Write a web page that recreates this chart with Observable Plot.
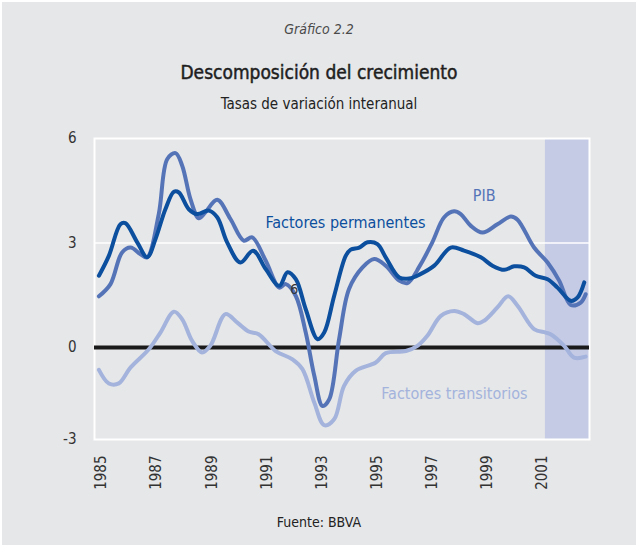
<!DOCTYPE html>
<html>
<head>
<meta charset="utf-8">
<script src="https://cdn.jsdelivr.net/npm/d3@7"></script>
<script src="https://cdn.jsdelivr.net/npm/@observablehq/plot@0.6"></script>
<style>
  html, body { margin: 0; padding: 0; background: #ffffff; }
  #wrap { position: relative; width: 634px; height: 543px; margin: 2px 0 0 2px; background: #e6e7e9; overflow: hidden;
          font-family: "Liberation Sans Narrow", "DejaVu Sans Condensed", "Roboto", sans-serif; color: #222; }
  .t { position: absolute; left: 0; width: 634px; text-align: center; }
  #kicker { top: 19px; font-size: 14px; font-style: italic; color: #4a4a4a; }
  #title { top: 59px; font-size: 19px; font-weight: normal; color: #1e1e1e; -webkit-text-stroke: 0.45px #1e1e1e; }
  #subtitle { top: 93px; font-size: 15px; color: #222; }
  #chart { position: absolute; left: -2px; top: 116px; }
  #source { top: 512px; font-size: 14px; color: #222; }
</style>
</head>
<body>
<div id="wrap">
  <div class="t" id="kicker">Gráfico 2.2</div>
  <div class="t" id="title">Descomposición del crecimiento</div>
  <div class="t" id="subtitle">Tasas de variación interanual</div>
  <div id="chart"></div>
  <div class="t" id="source">Fuente: BBVA</div>
</div>
<script>
// Factores permanentes (dark blue)
const permYears = [1984.91,1985.27,1985.69,1985.87,1986.30,1986.66,1986.96,1987.32,1987.63,1987.81,1988.17,1988.47,1988.89,1989.20,1989.56,1990.04,1990.50,1990.96,1991.45,1991.75,1992.05,1992.41,1992.84,1993.08,1993.44,1993.86,1994.04,1994.35,1994.65,1995.01,1995.31,1995.80,1996.16,1996.55,1997.07,1997.67,1998.15,1998.76,1999.18,1999.61,1999.97,2000.33,2000.75,2001.18,2001.54,2002.02,2002.27,2002.51];
const permValues = [2.06,2.63,3.54,3.57,3.02,2.59,3.11,3.97,4.47,4.45,3.97,3.83,3.93,3.74,3.02,2.44,2.78,2.25,1.77,2.16,1.96,1.10,0.24,0.43,1.48,2.63,2.81,2.87,3.02,2.97,2.59,2.01,1.98,2.10,2.35,2.87,2.78,2.59,2.35,2.23,2.33,2.30,2.06,1.96,1.72,1.34,1.44,1.87];

// PIB (medium blue)
const pibYears = [1984.91,1985.33,1985.75,1986.06,1986.42,1986.66,1987.08,1987.39,1987.69,1987.93,1988.23,1988.53,1988.77,1989.20,1989.68,1990.16,1990.47,1990.96,1991.45,1991.69,1992.05,1992.41,1992.72,1993.02,1993.26,1993.62,1993.98,1994.47,1994.89,1995.31,1995.80,1996.10,1996.55,1997.00,1997.43,1997.79,1998.03,1998.39,1998.82,1999.36,1999.85,2000.09,2000.69,2001.18,2001.60,2002.02,2002.38,2002.56];
const pibValues = [1.47,1.82,2.73,2.87,2.68,2.59,3.83,5.41,5.58,5.22,4.26,3.71,3.88,4.24,3.69,3.07,3.16,2.49,1.72,1.82,1.48,0.43,-0.81,-1.68,-1.49,0.24,1.68,2.30,2.54,2.35,1.92,1.85,2.35,3.02,3.74,3.91,3.83,3.50,3.30,3.54,3.76,3.67,2.87,2.44,1.92,1.22,1.29,1.53];

// Factores transitorios (light blue)
const tranYears = [1984.91,1985.27,1985.63,1986.06,1986.72,1987.14,1987.63,1987.93,1988.29,1988.65,1988.95,1989.50,1989.92,1990.34,1990.70,1991.32,1991.93,1992.29,1992.72,1993.08,1993.44,1993.80,1994.22,1994.95,1995.31,1996.04,1996.46,1996.82,1997.31,1997.79,1998.15,1998.64,1998.88,1999.36,1999.75,2000.09,2000.69,2001.11,2001.29,2001.78,2002.14,2002.56];
const tranValues = [-0.64,-1.03,-1.03,-0.57,-0.05,0.43,1.03,0.81,0.19,-0.14,0.05,0.96,0.72,0.46,0.38,-0.10,-0.34,-0.62,-1.58,-2.23,-2.06,-1.10,-0.67,-0.43,-0.16,-0.10,0.05,0.34,0.91,1.05,0.96,0.70,0.77,1.15,1.47,1.20,0.53,0.43,0.38,0.05,-0.29,-0.26];

// Shaded forecast period
const shadeStart = 2001.1;
const shadeEnd = 2002.7;

// Axis ticks
const xTicks = [1985,1987,1989,1991,1993,1995,1997,1999,2001];
const yTicks = [6, 3, 0, -2.64];
const yTickLabels = ["6", "3", "0", "-3"];

// Series labels
const labels = [
  {x: 1993.85, y: 3.59, text: "Factores permanentes", color: "#0b4f9e"},
  {x: 1998.88, y: 4.34, text: "PIB", color: "#5574b8"},
  {x: 1997.80, y: -1.33, text: "Factores transitorios", color: "#a3b3dc"},
  {x: 1991.99, y: 1.67, text: "6", color: "#333333"}
];

const toPts = (xs, ys) => xs.map((x, i) => ({x, y: ys[i]}));
const perm = toPts(permYears, permValues);
const pib = toPts(pibYears, pibValues);
const tran = toPts(tranYears, tranValues);

const font = '"Liberation Sans Narrow", "DejaVu Sans Condensed", "Roboto", sans-serif';

const chart = Plot.plot({
  width: 636,
  height: 400,
  marginLeft: 94,
  marginRight: 47,
  marginTop: 20,
  marginBottom: 79,
  style: {background: "transparent", fontFamily: font, fontSize: "15px", color: "#333"},
  x: {domain: [1984.75, 2002.7], axis: null},
  y: {domain: [-2.64, 6], axis: null},
  marks: [
    Plot.rectX([{x1: shadeStart, x2: shadeEnd}], {x1: "x1", x2: "x2", y1: -2.64, y2: 6, fill: "#c5cbe5"}),
    Plot.ruleY([3], {stroke: "#ffffff", strokeWidth: 1.5}),
    Plot.frame({stroke: "#ffffff", strokeWidth: 2}),
    Plot.ruleY([0], {stroke: "#1a1a1a", strokeWidth: 4}),
    Plot.axisX({ticks: xTicks, tickFormat: d => String(d), tickRotate: -90, tickSize: 0, tickPadding: 16, label: null, fontSize: 15, fill: "#333"}),
    Plot.axisY({ticks: yTicks, tickFormat: d => yTickLabels[yTicks.indexOf(d)], tickSize: 0, tickPadding: 18, label: null, fontSize: 15, fill: "#333"}),
    Plot.line(tran, {x: "x", y: "y", stroke: "#a3b3dc", strokeWidth: 4, curve: "catmull-rom"}),
    Plot.line(pib, {x: "x", y: "y", stroke: "#5574b8", strokeWidth: 4, curve: "catmull-rom"}),
    Plot.line(perm, {x: "x", y: "y", stroke: "#0b4f9e", strokeWidth: 4, curve: "catmull-rom"}),
    Plot.text(labels, {x: "x", y: "y", text: "text", fill: "color", fontSize: d => d.text === "6" ? 14 : 16, fontFamily: font})
  ]
});
document.getElementById("chart").appendChild(chart);
</script>
</body>
</html>
